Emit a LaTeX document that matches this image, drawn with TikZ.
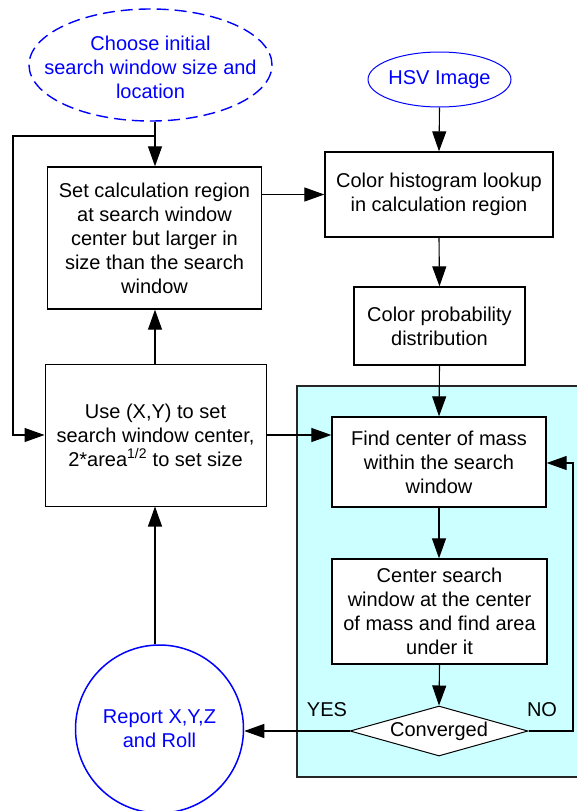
\documentclass[tikz,border=0pt]{standalone}
\usepackage{fontspec}
\setmainfont{Liberation Sans}
\usetikzlibrary{arrows.meta,shapes.geometric}
\definecolor{cyanbg}{HTML}{CCFFFF}
\definecolor{myblue}{HTML}{0000FF}
\tikzset{
  every node/.style={font=\fontsize{20}{24}\selectfont, align=center, inner sep=0pt},
  procbox/.style={draw=black, line width=1.3pt, fill=white, rectangle},
  conn/.style={draw=black, line width=1.1pt},
  arr/.style={conn, -{Triangle[length=20pt,width=14pt]}},
  bluetext/.style={text=myblue},
}
\begin{document}
\begin{tikzpicture}[x=1pt,y=-1pt]
\useasboundingbox (0,0) rectangle (577,811);
% cyan region
\draw[fill=cyanbg, draw=black!85, line width=1.6pt] (297,386) rectangle (579,777);

% nodes
\node[ellipse, draw=myblue, dash pattern=on 12pt off 6pt, line width=1.4pt,
      minimum width=243pt, minimum height=112pt] (choose) at (150.5,65) {};
\node[bluetext] (choosetext) at (150.5,67)
      {Choose initial\\search window size and\\location};
\node[ellipse, draw=myblue, line width=1pt,
      minimum width=143pt, minimum height=55pt] (hsv) at (439.5,79.5) {};
\node[bluetext] (hsvtext) at (439.5,80) {HSV Image};
\node[procbox, minimum width=214pt, minimum height=142pt] (setbox) at (154.5,238)
      {Set calculation region\\at search window\\center but larger in\\size than the search\\window};
\node[procbox, minimum width=228pt, minimum height=85pt] (hist) at (439,194.5)
      {Color histogram lookup\\in calculation region};
\node[procbox, minimum width=171pt, minimum height=78pt] (prob) at (439.5,326)
      {Color probability\\distribution};
\node[procbox, line width=1pt, minimum width=221pt, minimum height=142pt] (use) at (155.5,435)
      {Use (X,Y) to set\\search window center,\\2*area\textsuperscript{1/2} to set size};
\node[procbox, minimum width=214pt, minimum height=90pt] (find) at (439,462)
      {Find center of mass\\within the search\\window};
\node[procbox, minimum width=215pt, minimum height=105pt] (cbox) at (439.5,611.5)
      {Center search\\window at the center\\of mass and find area\\under it};
\node[diamond, draw=black, line width=1pt, fill=white, minimum width=178pt, minimum height=50pt] (conv) at (439,731) {};
\node at (439,731) (convtext) {Converged};
\node[circle, draw=myblue, line width=1.5pt, bluetext, minimum size=168pt] (report) at (159.5,729)
      {Report X,Y,Z\\and Roll};
\node (yes) at (327,710) {YES};
\node (no) at (542,710) {NO};

% coordinates
\coordinate (j) at (155,136);
\coordinate (lt) at (13,136);
\coordinate (lb) at (13,435);
\coordinate (nr) at (573,463);

% connectors
\draw[conn] (choose.south -| j) -- (j);
\draw[arr] (j) -- (j |- setbox.north);
\draw[arr] (j) -- (lt) -- (lb) -- (lb -| use.west);
\draw[arr] (use.north -| j) -- (j |- setbox.south);
\draw[arr] (setbox.east |- hist.west) -- (hist.west);
\draw[arr] (hsv.south) -- (hist.north);
\draw[arr] (hist.south) -- (prob.north);
\draw[arr] (prob.south) -- (find.north);
\draw[arr] (use.east) -- (use.east -| find.west);
\draw[arr] (find.south) -- (find.south |- cbox.north);
\draw[arr] (cbox.south) -- (conv.north);
\draw[arr] (conv.west) -- (conv.west -| report.east);
\draw[arr] (conv.east) -| (nr) -- (nr -| find.east);
\draw[arr] (report.north -| j) -- (j |- use.south);
\end{tikzpicture}
\end{document}
